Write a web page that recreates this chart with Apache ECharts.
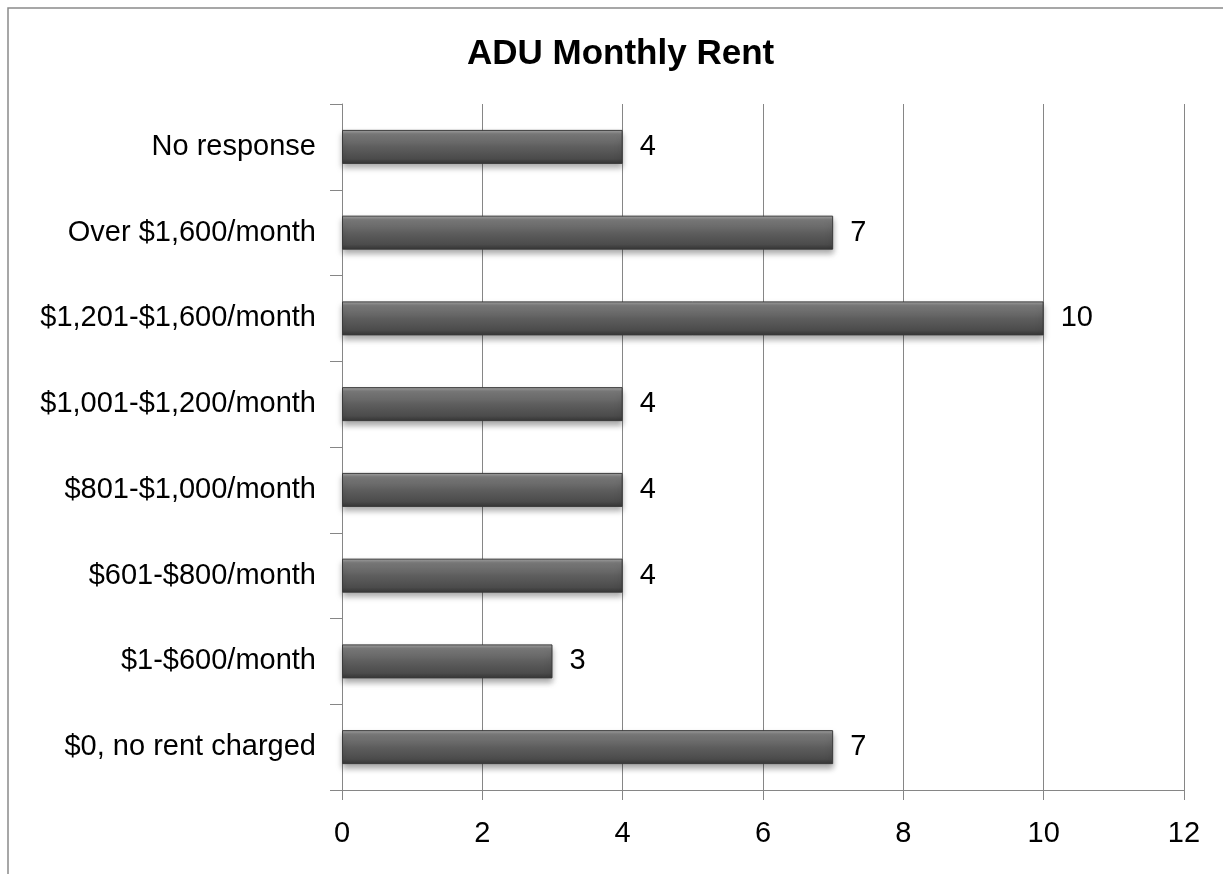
<!DOCTYPE html>
<html>
<head>
<meta charset="utf-8">
<script src="https://cdn.jsdelivr.net/npm/echarts@6/dist/echarts.min.js"></script>
<style>
  html, body { margin: 0; padding: 0; background: #fff; }
  #chart { width: 1223px; height: 874px; }
</style>
</head>
<body>
<div id="chart"></div>
<script>
  // categories from bottom to top, as the axis draws them
  var categories = [
    '$0, no rent charged',
    '$1-$600/month',
    '$601-$800/month',
    '$801-$1,000/month',
    '$1,001-$1,200/month',
    '$1,201-$1,600/month',
    'Over $1,600/month',
    'No response'
  ];
  var counts = [7, 3, 4, 4, 4, 10, 7, 4];

  var chart = echarts.init(document.getElementById('chart'));

  // bar look: grey with a lighter top edge, like the office bevel style
  var barFill = new echarts.graphic.LinearGradient(0, 0, 0, 1, [
    { offset: 0, color: '#a6a6a6' },
    { offset: 0.12, color: '#7c7c7c' },
    { offset: 0.5, color: '#5e5e5e' },
    { offset: 0.85, color: '#4b4b4b' },
    { offset: 1, color: '#353535' }
  ]);

  chart.setOption({
    animation: false,
    textStyle: { fontFamily: 'Liberation Sans, Arial, sans-serif' },
    title: {
      text: 'ADU Monthly Rent',
      left: 462,
      top: 32,
      textStyle: { fontSize: 35, fontWeight: 'bold', color: '#000' }
    },
    graphic: [{
      type: 'rect',
      shape: { x: 8, y: 8, width: 1300, height: 1000 },
      style: { fill: 'none', stroke: '#8a8a8a', lineWidth: 1.5 },
      silent: true
    }],
    grid: { left: 342, right: 39, top: 104, bottom: 84 },
    xAxis: {
      type: 'value',
      min: 0, max: 12, interval: 2,
      axisLine: { show: true, lineStyle: { color: '#868686', width: 1 } },
      axisTick: { show: true, length: 10, lineStyle: { color: '#868686' } },
      splitLine: { show: true, lineStyle: { color: '#868686', width: 1 } },
      axisLabel: { color: '#000', fontSize: 29, margin: 29 }
    },
    yAxis: {
      type: 'category',
      data: categories,
      axisLine: { show: true, lineStyle: { color: '#868686', width: 1 } },
      axisTick: { show: true, length: 12, lineStyle: { color: '#868686' } },
      axisLabel: { color: '#000', fontSize: 29, margin: 26 }
    },
    series: [{
      type: 'bar',
      data: counts,
      barWidth: 34,
      itemStyle: {
        color: barFill,
        borderColor: '#3a3a3a',
        borderWidth: 1,
        shadowColor: 'rgba(0,0,0,0.35)',
        shadowBlur: 6,
        shadowOffsetY: 4
      },
      label: {
        show: true,
        position: 'right',
        distance: 17,
        color: '#000',
        fontSize: 29
      }
    }]
  });
</script>
</body>
</html>
